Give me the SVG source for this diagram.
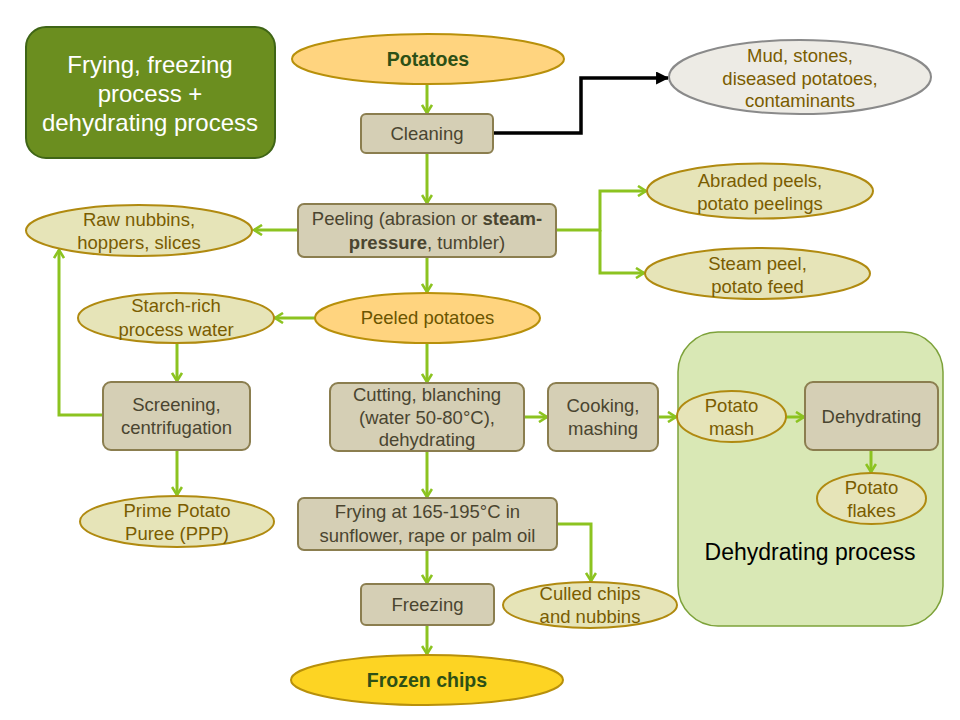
<svg xmlns="http://www.w3.org/2000/svg" width="960" height="720" viewBox="0 0 960 720">
<defs>
<marker id="ga" viewBox="0 0 12 12" refX="10" refY="6" markerWidth="12" markerHeight="12" markerUnits="userSpaceOnUse" orient="auto">
<polyline points="2,1 10,6 2,11" fill="none" stroke="#8CC320" stroke-width="2.6"/>
</marker>
<marker id="ba" viewBox="0 0 12 12" refX="11" refY="6" markerWidth="13" markerHeight="13" markerUnits="userSpaceOnUse" orient="auto">
<polygon points="0,0 12,6 0,12" fill="#000"/>
</marker>
</defs>
<style>
text{font-family:"Liberation Sans",Arial,sans-serif;text-anchor:middle;}
.box{fill:#D5CFB5;stroke:#8B7E4F;stroke-width:2;}
.bt{fill:#4A4530;font-size:18.5px;}
.ell{fill:#E6E4B8;stroke:#B08A10;stroke-width:2;}
.et{fill:#7A5C00;font-size:18.5px;}
.org{fill:#FFD47F;stroke:#B8900A;stroke-width:2;}
.gl{fill:none;stroke:#8CC320;stroke-width:3;marker-end:url(#ga);}
</style>
<rect width="960" height="720" fill="#fff"/>

<g id="title">
<rect x="26" y="27" width="249" height="131" rx="20" fill="#6B8E1F" stroke="#3F6516" stroke-width="2"/>
<text x="150" y="73" fill="#fff" font-size="24">Frying, freezing</text>
<text x="150" y="102" fill="#fff" font-size="24">process +</text>
<text x="150" y="131" fill="#fff" font-size="24">dehydrating process</text>
</g>

<g id="dehydrating-process">
<rect x="678" y="332" width="265" height="294" rx="40" fill="#D9E8B5" stroke="#7DA23A" stroke-width="1.5"/>
<text x="810" y="560" fill="#000" font-size="23">Dehydrating process</text>
</g>

<g id="connectors">
<line class="gl" x1="427" y1="84" x2="427" y2="113"/>
<line class="gl" x1="427" y1="153" x2="427" y2="203"/>
<polyline fill="none" stroke="#000" stroke-width="3.5" marker-end="url(#ba)" points="493,133 581,133 581,78 668,78"/>
<line class="gl" x1="298" y1="230" x2="254" y2="230"/>
<polyline class="gl" points="556,230 600,230 600,191 646,191"/>
<polyline class="gl" points="600,230 600,273 644,273"/>
<line class="gl" x1="427" y1="257" x2="427" y2="292"/>
<line class="gl" x1="315" y1="318" x2="275" y2="318"/>
<line class="gl" x1="177" y1="343" x2="177" y2="381"/>
<polyline class="gl" points="103,415 59,415 59,250"/>
<line class="gl" x1="177" y1="450" x2="177" y2="495"/>
<line class="gl" x1="427" y1="343" x2="427" y2="382"/>
<line class="gl" x1="524" y1="417" x2="547" y2="417"/>
<line class="gl" x1="658" y1="417" x2="676" y2="417"/>
<line class="gl" x1="786" y1="417" x2="804" y2="417"/>
<line class="gl" x1="871" y1="450" x2="871" y2="472"/>
<line class="gl" x1="427" y1="451" x2="427" y2="497"/>
<polyline class="gl" points="557,524 591,524 591,581"/>
<line class="gl" x1="427" y1="550" x2="427" y2="583"/>
<line class="gl" x1="427" y1="625" x2="427" y2="654"/>
</g>

<g id="potatoes">
<ellipse class="org" cx="428" cy="59" rx="136" ry="25"/>
<text x="428" y="66" fill="#2D5016" font-size="19.5" font-weight="bold">Potatoes</text>
</g>

<g id="cleaning">
<rect class="box" x="361" y="114" width="132" height="39" rx="5"/>
<text class="bt" x="427" y="140">Cleaning</text>
</g>

<g id="mud">
<ellipse cx="800" cy="77" rx="131" ry="37" fill="#EDEBE5" stroke="#8A8A8A" stroke-width="2"/>
<text class="et" x="800" y="62">Mud, stones,</text>
<text class="et" x="800" y="85">diseased potatoes,</text>
<text class="et" x="800" y="107">contaminants</text>
</g>

<g id="peeling">
<rect class="box" x="298" y="204" width="258" height="53" rx="6"/>
<text class="bt" x="427" y="225">Peeling (abrasion or <tspan font-weight="bold">steam-</tspan></text>
<text class="bt" x="427" y="249"><tspan font-weight="bold">pressure</tspan>, tumbler)</text>
</g>

<g id="raw-nubbins">
<ellipse class="ell" cx="139" cy="230.5" rx="113" ry="25.5"/>
<text class="et" x="139" y="226">Raw nubbins,</text>
<text class="et" x="139" y="249">hoppers, slices</text>
</g>

<g id="abraded-peels">
<ellipse class="ell" cx="760" cy="191" rx="113" ry="27.5"/>
<text class="et" x="760" y="187">Abraded peels,</text>
<text class="et" x="760" y="210">potato peelings</text>
</g>

<g id="steam-peel">
<ellipse class="ell" cx="757.5" cy="273.5" rx="112.5" ry="25.5"/>
<text class="et" x="757.5" y="270">Steam peel,</text>
<text class="et" x="757.5" y="293">potato feed</text>
</g>

<g id="peeled-potatoes">
<ellipse class="org" cx="427.5" cy="318" rx="112.5" ry="25"/>
<text x="427.5" y="324" fill="#6B5500" font-size="18.5">Peeled potatoes</text>
</g>

<g id="starch-rich">
<ellipse class="ell" cx="176" cy="318" rx="98" ry="25"/>
<text class="et" x="176" y="312">Starch-rich</text>
<text class="et" x="176" y="336">process water</text>
</g>

<g id="screening">
<rect class="box" x="103" y="382" width="147" height="68" rx="8"/>
<text class="bt" x="176.5" y="411">Screening,</text>
<text class="bt" x="176.5" y="434">centrifugation</text>
</g>

<g id="ppp">
<ellipse class="ell" cx="177" cy="521.5" rx="97" ry="25.5"/>
<text class="et" x="177" y="517">Prime Potato</text>
<text class="et" x="177" y="540">Puree (PPP)</text>
</g>

<g id="cutting">
<rect class="box" x="330" y="383" width="194" height="68" rx="8"/>
<text class="bt" x="427" y="401">Cutting, blanching</text>
<text class="bt" x="427" y="424">(water 50-80°C),</text>
<text class="bt" x="427" y="446">dehydrating</text>
</g>

<g id="cooking">
<rect class="box" x="548" y="383" width="110" height="68" rx="8"/>
<text class="bt" x="603" y="412">Cooking,</text>
<text class="bt" x="603" y="435">mashing</text>
</g>

<g id="potato-mash">
<ellipse class="ell" cx="731.5" cy="416.5" rx="54.5" ry="25.5"/>
<text class="et" x="731.5" y="412">Potato</text>
<text class="et" x="731.5" y="435">mash</text>
</g>

<g id="dehydrating">
<rect class="box" x="805" y="382" width="133" height="68" rx="8"/>
<text class="bt" x="871.5" y="423">Dehydrating</text>
</g>

<g id="potato-flakes">
<ellipse class="ell" cx="871.5" cy="498.5" rx="54.5" ry="25.5"/>
<text class="et" x="871.5" y="494">Potato</text>
<text class="et" x="871.5" y="517">flakes</text>
</g>

<g id="frying">
<rect class="box" x="298" y="498" width="259" height="52" rx="6"/>
<text class="bt" x="427.5" y="518">Frying at 165-195°C in</text>
<text class="bt" x="427.5" y="542">sunflower, rape or palm oil</text>
</g>

<g id="culled-chips">
<ellipse class="ell" cx="590" cy="605" rx="87" ry="23"/>
<text class="et" x="590" y="600">Culled chips</text>
<text class="et" x="590" y="623">and nubbins</text>
</g>

<g id="freezing">
<rect class="box" x="361" y="584" width="133" height="41" rx="5"/>
<text class="bt" x="427.5" y="611">Freezing</text>
</g>

<g id="frozen-chips">
<ellipse cx="427" cy="680" rx="136" ry="25" fill="#FDD423" stroke="#B8900A" stroke-width="2"/>
<text x="427" y="687" fill="#2D5016" font-size="19.5" font-weight="bold">Frozen chips</text>
</g>
</svg>
